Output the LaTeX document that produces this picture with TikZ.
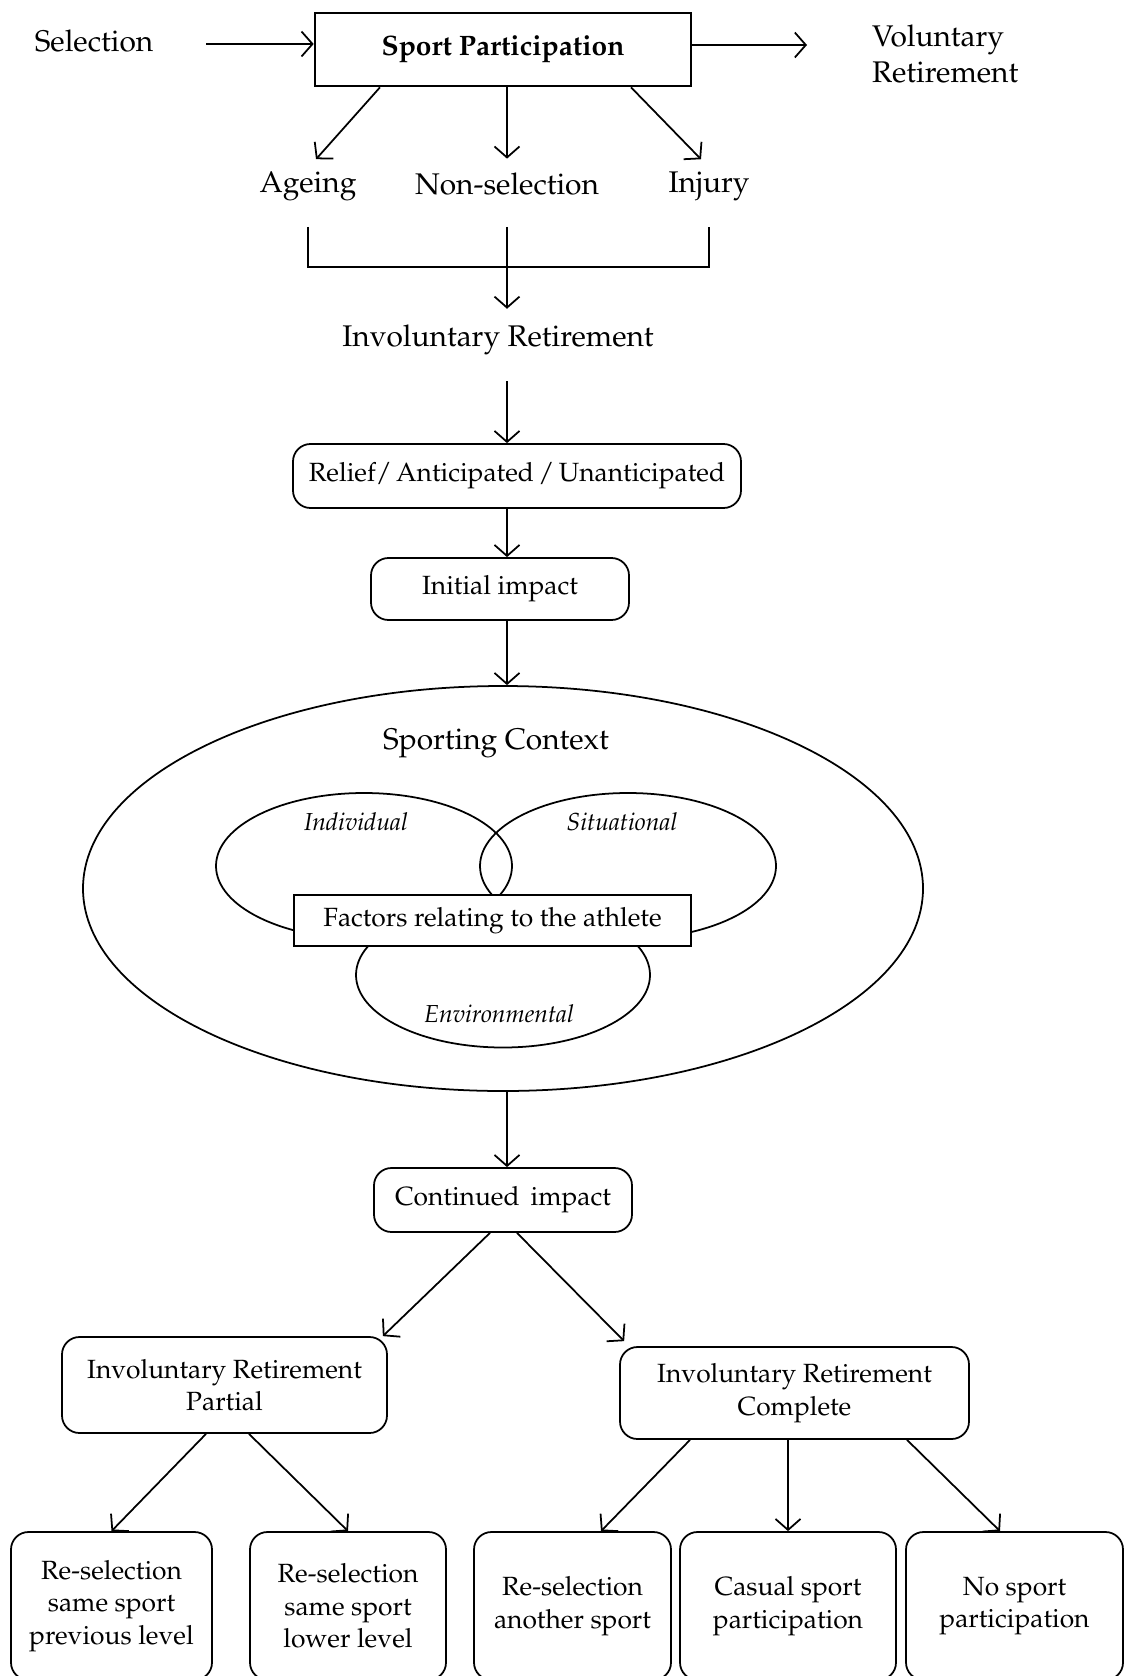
\documentclass[tikz,border=0pt]{standalone}
\usepackage[T1]{fontenc}
\usepackage{mathpazo}
\usepackage{tikz}
\usetikzlibrary{shapes,arrows.meta}
\tikzstyle{block}=[rectangle, draw, line width=1pt, rounded corners=3.5mm,
                   text centered, align=center, inner sep=0pt,
                   font=\fontsize{15}{18.5}\selectfont]
\tikzstyle{sqbox}=[rectangle, draw, line width=1.2pt, inner sep=0pt]
\tikzstyle{oval}=[ellipse, draw, line width=1pt, inner sep=0pt]
\tikzstyle{line}=[draw, line width=1pt, -{Straight Barb[length=2.2mm,width=5mm]}]
\tikzstyle{txt}=[font=\fontsize{17}{20.5}\selectfont]
\tikzstyle{itxt}=[font=\fontsize{14}{17}\selectfont\itshape]

\begin{document}
\begin{tikzpicture}
    \useasboundingbox (0,0) rectangle (22.56,-33.52);
    % top row
    \node [txt] at (1.88,-0.82) (sel) {Selection};
    \node [sqbox, line width=1.5pt, minimum width=7.52cm, minimum height=1.46cm,
           font=\fontsize{16}{19}\selectfont\bfseries] at (10.06,-0.99) (sport) {Sport Participation};
    \node [txt, anchor=west, align=left] at (17.32,-1.09) (vol) {Voluntary\\Retirement};
    \coordinate (selend) at (4.12,-0.88);
    \coordinate (volend) at (16.14,-0.90);
    \node [txt] at (6.16,-3.72)  (ageing) {Ageing};
    \node [txt] at (10.14,-3.68) (nonsel) {Non-selection};
    \node [txt] at (14.18,-3.72) (injury) {Injury};
    \coordinate (brtop) at (10.14,-4.54);
    \coordinate (brk)   at (10.14,-5.34);
    \node [txt] at (9.96,-6.8) (ivr) {Involuntary Retirement};
    % impact boxes
    \node [block, minimum width=8.96cm, minimum height=1.28cm] at (10.34,-9.52) (relief) {Relief/\,Anticipated\,/\,Unanticipated};
    \node [block, minimum width=5.16cm, minimum height=1.24cm] at (10.0,-11.78) (init) {Initial impact};
    % sporting context
    \node [oval, minimum width=16.8cm, minimum height=8.1cm] at (10.06,-17.77) (ctx) {};
    \node [txt] at (9.92,-14.86) (ctxlab) {Sporting Context};
    \node [oval, minimum width=5.92cm, minimum height=2.92cm] at (7.28,-17.32)  (indiv) {};
    \node [oval, minimum width=5.92cm, minimum height=2.92cm] at (12.56,-17.32) (situ) {};
    \node [oval, minimum width=5.88cm, minimum height=2.9cm] at (10.06,-19.5) (envir) {};
    \node [itxt] at (7.12,-16.44)  (indivlab) {Individual};
    \node [itxt] at (12.44,-16.44) (situlab)  {Situational};
    \node [itxt] at (9.98,-20.28)  (envirlab) {Environmental};
    \node [sqbox, fill=white, minimum width=7.94cm, minimum height=1.02cm,
           font=\fontsize{15}{18}\selectfont] at (9.85,-18.41) (factors) {Factors relating to the athlete};
    % outcomes
    \node [block, minimum width=5.16cm, minimum height=1.28cm] at (10.06,-24.0) (cont) {Continued\, impact};
    \node [block, minimum width=6.5cm, minimum height=1.92cm] at (4.49,-27.7) (partial) {Involuntary Retirement\\Partial};
    \node [block, minimum width=6.98cm, minimum height=1.84cm] at (15.89,-27.86) (complete) {Involuntary Retirement\\Complete};
    \node [block, minimum width=4.02cm, minimum height=2.96cm] at (2.23,-32.12)  (prevlev) {Re-selection\\same sport\\previous level};
    \node [block, minimum width=3.92cm, minimum height=2.96cm] at (6.96,-32.12)  (lowlev)  {Re-selection\\same sport\\lower level};
    \node [block, minimum width=3.94cm, minimum height=2.96cm] at (11.45,-32.12) (another) {Re-selection\\another sport};
    \node [block, minimum width=4.32cm, minimum height=2.96cm] at (15.76,-32.12) (casual)  {Casual sport\\participation};
    \node [block, minimum width=4.34cm, minimum height=2.96cm] at (20.29,-32.12) (nosport) {No sport\\participation};
    % connectors
    \path [line] (selend) -- (selend -| sport.west);
    \path [line] (sport.east |- volend) -- (volend);
    \path [line] ([xshift=-2.46cm]sport.south) -- ([shift={(0.16cm,0.12cm)}]ageing.north);
    \path [line] (sport.south -| nonsel) -- ([yshift=0.16cm]nonsel.north);
    \path [line] ([xshift=2.56cm]sport.south) -- ([shift={(-0.16cm,0.12cm)}]injury.north);
    \draw [line width=1pt] (ageing.south |- brtop) |- (brk) -| (injury.south |- brtop);
    \path [line] (brtop) -- (brk) -- ([yshift=0.2cm]ivr.north -| brk);
    \path [line] ([yshift=-0.4cm]ivr.south -| brk) -- (relief.north -| brk);
    \path [line] (relief.south -| brk) -- (init.north -| brk);
    \path [line] (init.south -| brk) -- (ctx.north -| brk);
    \path [line] (ctx.south -| brk) -- (cont.north -| brk);
    \path [line] ([xshift=-0.26cm]cont.south) -- ([xshift=-0.1cm]partial.north east);
    \path [line] ([xshift=0.28cm]cont.south) -- ([shift={(0.1cm,0.1cm)}]complete.north west);
    \path [line] ([xshift=-0.37cm]partial.south) -- (prevlev.north);
    \path [line] ([xshift=0.49cm]partial.south) -- (lowlev.north);
    \path [line] ([xshift=-2.09cm]complete.south) -- ([xshift=0.57cm]another.north);
    \path [line] (casual.north |- complete.south) -- (casual.north);
    \path [line] ([xshift=2.25cm]complete.south) -- ([xshift=-0.29cm]nosport.north);
\end{tikzpicture}
\end{document}
